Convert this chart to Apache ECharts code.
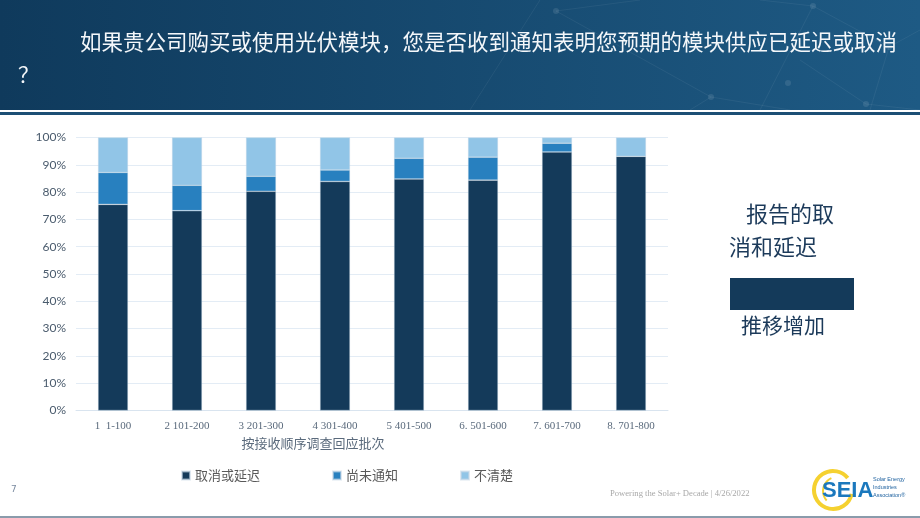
<!DOCTYPE html>
<html>
<head>
<meta charset="utf-8">
<script src="https://cdn.jsdelivr.net/npm/echarts@6/dist/echarts.min.js"></script>
<style>html,body{margin:0;padding:0;background:#fff;}#c{width:920px;height:518px;}</style>
</head>
<body>
<div id="c"></div>
<script>
var categories = ['1  1-100', '2 101-200', '3 201-300', '4 301-400', '5 401-500', '6. 501-600', '7. 601-700', '8. 701-800'];
var seriesNames = ['取消或延迟', '尚未通知', '不清楚'];
var cancelled = [75.5, 73.2, 80.3, 83.9, 84.8, 84.4, 94.7, 93.1];
var notYet = [11.7, 9.3, 5.5, 4.2, 7.6, 8.4, 3.2, 0];
var unclear = [12.8, 17.5, 14.2, 11.9, 7.6, 7.2, 2.1, 6.9];
var yTicks = [0, 10, 20, 30, 40, 50, 60, 70, 80, 90, 100];

var colors = ['#143a5a', '#2880bf', '#91c5e7'];
var chart = echarts.init(document.getElementById('c'), null, {renderer: 'canvas'});

var cjk = '"Noto Sans CJK SC", sans-serif';
var patternLines = [
  [[540, 0], [470, 110]], [[556, 11], [711, 97]], [[711, 97], [790, 110]],
  [[813, 6], [889, 47]], [[889, 47], [920, 30]], [[813, 6], [760, 110]],
  [[889, 47], [870, 110]], [[640, 0], [556, 11]], [[711, 97], [690, 110]],
  [[800, 60], [866, 104]], [[866, 104], [920, 118]], [[760, 0], [813, 6]]
];
var patternDots = [[556, 11], [711, 97], [813, 6], [889, 47], [866, 104], [788, 83]];
var graphics = [
  {type: 'rect', left: 0, top: 0, shape: {x: 0, y: 0, width: 920, height: 110}, z: -10,
   style: {fill: new echarts.graphic.LinearGradient(0, 0, 1, 0, [{offset: 0, color: '#0f3a5c'}, {offset: 1, color: '#1e5a84'}])}},
  {type: 'rect', shape: {x: 0, y: 112, width: 920, height: 3}, style: {fill: '#1c4f75'}, z: -10}
];
patternLines.forEach(function (l) {
  graphics.push({type: 'line', shape: {x1: l[0][0], y1: l[0][1], x2: l[1][0], y2: Math.min(l[1][1], 110)}, style: {stroke: 'rgba(255,255,255,0.06)', lineWidth: 1}, z: -9});
});
patternDots.forEach(function (d) {
  graphics.push({type: 'circle', shape: {cx: d[0], cy: d[1], r: 3}, style: {fill: 'rgba(255,255,255,0.10)'}, z: -9});
});
graphics = graphics.concat([
  {type: 'text', x: 80, y: 42, style: {text: '如果贵公司购买或使用光伏模块，您是否收到通知表明您预期的模块供应已延迟或取消', font: '21.5px ' + cjk, fill: '#f4f7fa', textVerticalAlign: 'middle'}},
  {type: 'text', x: 18, y: 74, style: {text: '？', font: '21px ' + cjk, fill: '#f4f7fa', textVerticalAlign: 'middle'}},
  {type: 'text', x: 313, y: 443, style: {text: '按接收顺序调查回应批次', font: '13px ' + cjk, fill: '#5a6a7c', textAlign: 'center', textVerticalAlign: 'middle'}},
  {type: 'text', x: 746, y: 214, style: {text: '报告的取', font: '22px ' + cjk, fill: '#1c3a5a', textVerticalAlign: 'middle'}},
  {type: 'text', x: 729, y: 247, style: {text: '消和延迟', font: '22px ' + cjk, fill: '#1c3a5a', textVerticalAlign: 'middle'}},
  {type: 'rect', shape: {x: 730, y: 278, width: 124, height: 32}, style: {fill: '#143a5a'}},
  {type: 'text', x: 741, y: 325, style: {text: '推移增加', font: '21px ' + cjk, fill: '#1c3a5a', textVerticalAlign: 'middle'}},
  {type: 'text', x: 11, y: 490, style: {text: '7', font: '9px "DejaVu Sans"', fill: '#7a8aa0', textVerticalAlign: 'middle'}},
  {type: 'text', x: 610, y: 494, style: {text: 'Powering the Solar+ Decade | 4/26/2022', font: '8.6px "Liberation Serif"', fill: '#a8a8a8', textVerticalAlign: 'middle'}},
  {type: 'arc', shape: {cx: 833, cy: 490, r: 19, startAngle: 0.2, endAngle: 5.6}, style: {stroke: '#f5d130', lineWidth: 4, fill: null}},
  {type: 'arc', shape: {cx: 837, cy: 491, r: 14, startAngle: 2.4, endAngle: 4.3}, style: {stroke: '#f5d130', lineWidth: 2, fill: null}},
  {type: 'text', x: 822, y: 491, style: {text: 'SEIA', font: 'bold 22px "Liberation Sans"', fill: '#1b78bd', textVerticalAlign: 'middle'}},
  {type: 'text', x: 873, y: 479, style: {text: 'Solar Energy', font: '5.5px "Liberation Sans"', fill: '#1b5f9e', textVerticalAlign: 'middle'}},
  {type: 'text', x: 873, y: 487, style: {text: 'Industries', font: '5.5px "Liberation Sans"', fill: '#1b5f9e', textVerticalAlign: 'middle'}},
  {type: 'text', x: 873, y: 495, style: {text: 'Association®', font: '5.5px "Liberation Sans"', fill: '#1b5f9e', textVerticalAlign: 'middle'}},
  {type: 'rect', shape: {x: 0, y: 516, width: 920, height: 2}, style: {fill: '#8a9bab'}}
]);

var seriesData = [cancelled, notYet, unclear];
var legendX = [176, 327, 455];
chart.setOption({
  animation: false,
  backgroundColor: '#ffffff',
  grid: {left: 76, right: 252, top: 137.5, bottom: 107.5},
  legend: seriesNames.map(function (n, i) {
    return {data: [n], left: legendX[i], top: 464, icon: 'rect', itemWidth: 8, itemHeight: 8, itemGap: 10,
      textStyle: {fontFamily: cjk, fontSize: 13, color: '#595959'}, selectedMode: false};
  }),
  xAxis: {
    type: 'category', data: categories,
    axisLine: {lineStyle: {color: '#d9e4ef'}}, axisTick: {show: false},
    axisLabel: {interval: 0, fontFamily: '"Liberation Serif"', fontSize: 11, color: '#5a6a7c', margin: 10}
  },
  yAxis: {
    type: 'value', min: yTicks[0], max: yTicks[yTicks.length - 1], interval: 10,
    axisLine: {show: false}, axisTick: {show: false},
    splitLine: {lineStyle: {color: '#e3ecf5'}},
    axisLabel: {formatter: '{value}%', fontFamily: 'Lato', fontSize: 12, color: '#4a5b6d', margin: 10}
  },
  series: seriesNames.map(function (n, i) {
    return {name: n, type: 'bar', stack: 'total', data: seriesData[i], barWidth: 30,
      itemStyle: {color: colors[i], borderColor: 'rgba(200,215,230,0.6)', borderWidth: 0.6}};
  }),
  graphic: graphics
});
</script>
</body>
</html>
